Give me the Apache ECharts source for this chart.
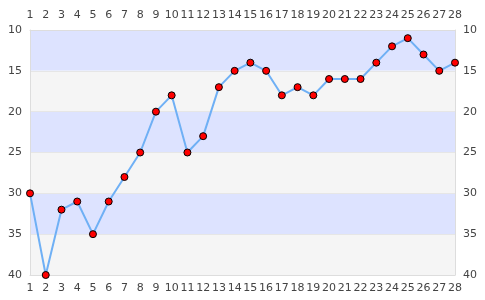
<!DOCTYPE html>
<html><head><meta charset="utf-8">
<script src="https://cdn.jsdelivr.net/npm/echarts@6/dist/echarts.min.js"></script>
<style>html,body{margin:0;padding:0;background:#fff}#c{width:485px;height:300px}</style>
</head><body><div id="c"></div>
<script>
const categories = ['1','2','3','4','5','6','7','8','9','10','11','12','13','14','15','16','17','18','19','20','21','22','23','24','25','26','27','28'];
const values = [30,40,32,31,35,31,28,25,20,18,25,23,17,15,14,15,18,17,18,16,16,16,14,12,11,13,15,14];
const yMin = 10, yMax = 40, yStep = 5;

const font = {fontFamily:'DejaVu Sans', fontSize:11, color:'#444'};
const chart = echarts.init(document.getElementById('c'), null, {renderer:'canvas'});
const xAxisBase = {
  type:'category', data:categories, boundaryGap:false,
  axisLine:{show:true, lineStyle:{color:'#ddd'}},
  axisTick:{show:false},
  splitLine:{show:false}
};
const yAxisBase = {
  type:'value', min:yMin, max:yMax, interval:yStep, inverse:true,
  axisLine:{show:true, lineStyle:{color:'#ddd'}},
  axisTick:{show:false},
  axisLabel:Object.assign({margin:8}, font)
};
chart.setOption({
  animation:false,
  grid:{left:30, right:30, top:30, bottom:25, containLabel:false},
  xAxis:[
    Object.assign({position:'bottom', axisLabel:Object.assign({margin:8, interval:0}, font)}, xAxisBase),
    Object.assign({position:'top', axisLabel:Object.assign({margin:9, interval:0}, font)}, xAxisBase)
  ],
  yAxis:[
    Object.assign({position:'left',
      splitLine:{show:true, lineStyle:{color:'#e6e6e6'}},
      splitArea:{show:true, areaStyle:{color:['#dde3ff','#f5f5f5']}}
    }, yAxisBase),
    Object.assign({position:'right', splitLine:{show:false}}, yAxisBase)
  ],
  series:[{
    type:'line', data:values, xAxisIndex:0, yAxisIndex:0,
    symbol:'circle', symbolSize:7,
    lineStyle:{color:'#6fb0f5', width:2},
    itemStyle:{color:'#ff0000', borderColor:'#000', borderWidth:1}
  }]
});
</script></body></html>
